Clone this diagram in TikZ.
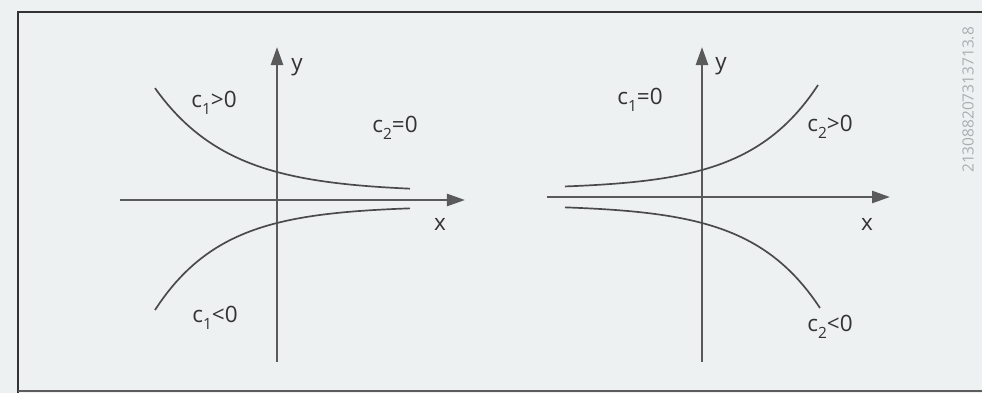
\documentclass[tikz,border=0pt]{standalone}
\usepackage{fontspec}
\setmainfont{Open Sans}
\usetikzlibrary{arrows.meta}
\definecolor{paper}{HTML}{EEF1F1}
\definecolor{axisgray}{HTML}{5A5A5A}
\definecolor{curvegray}{HTML}{4A4A4A}
\definecolor{ink}{HTML}{333333}
\definecolor{faint}{HTML}{A9AFB1}
\newcommand{\lowidx}[1]{\raisebox{-0.55ex}{\fontsize{11}{13}\selectfont #1}}
\tikzset{
	axisline/.style={draw=axisgray, line width=1.8pt, -{Triangle[length=0.45cm,width=0.3cm]}},
	sol/.style={draw=curvegray, line width=1.2pt},
	lbl/.style={text=ink, font=\fontsize{16}{19}\selectfont, inner sep=0pt},
}
\begin{document}
\begin{tikzpicture}[x=0.025cm, y=-0.025cm]
		\fill[paper] (0,0) rectangle (982,393);
		\useasboundingbox (0,0) rectangle (982,393);
		
		% frame
		\draw[ink, line width=1.2pt] (990,12) -- (18,12) -- (18,400);
		\draw[ink!80, line width=1.2pt] (18,391) -- (990,391);
		
		% left picture
		\coordinate (xl1) at (120,200);
		\coordinate (xr1) at (465,200);
		\coordinate (yb1) at (277,362);
		\coordinate (yt1) at (277,47);
		
		\draw[axisline] (xl1) -- (xr1);
		\draw[axisline] (yb1) -- (yt1);
		
		\draw[sol] plot[domain=155:410, samples=60] (\x, {192-20*exp(-0.01351*(\x-277))});
		\draw[sol] plot[domain=155:410, samples=60] (\x, {206+17*exp(-0.01484*(\x-277))});
		
		\node[lbl] (y1) at (297,67) {y};
		\node[lbl] (x1) at (440,224) {x};
		\node[lbl] (c1p) at (214,103) {c\lowidx{1}>0};
		\node[lbl] (c2z) at (395,128) {c\lowidx{2}=0};
		\node[lbl] (c1n) at (215,318) {c\lowidx{1}<0};
		
		% right picture
		\coordinate (xl2) at (547,197);
		\coordinate (xr2) at (890,197);
		\coordinate (yb2) at (702,362);
		\coordinate (yt2) at (702,47);
		
		\draw[axisline] (xl2) -- (xr2);
		\draw[axisline] (yb2) -- (yt2);
		
		\draw[sol] plot[domain=565:818, samples=60] (\x, {189-19*exp(0.01465*(\x-702))});
		\draw[sol] plot[domain=565:820, samples=60] (\x, {205+18*exp(0.01478*(\x-702))});
		
		\node[lbl] (y2) at (721,66) {y};
		\node[lbl] (x2) at (867,224) {x};
		\node[lbl] (c1z) at (640,100) {c\lowidx{1}=0};
		\node[lbl] (c2p) at (830,127) {c\lowidx{2}>0};
		\node[lbl] (c2n) at (830,327) {c\lowidx{2}<0};
		
		\node[rotate=90, text=faint, font=\fontsize{11}{13}\selectfont, inner sep=0pt] (code) at (968,100) {213088207313713.8};
	\end{tikzpicture}
\end{document}
